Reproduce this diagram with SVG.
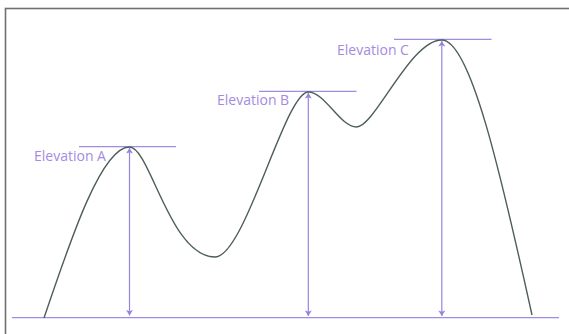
<svg xmlns="http://www.w3.org/2000/svg" width="569" height="334" viewBox="0 0 569 334">
<style>
.frame{fill:#fff;stroke:#707070;stroke-width:1.6}
.guide{stroke:#a08ce0;stroke-width:1.2;fill:none}
.arrow{stroke:#9883dc;stroke-width:1.2;fill:none;marker-start:url(#up);marker-end:url(#down)}
.curve{stroke:#4d5e5c;stroke-width:1.4;fill:none}
.lbl{font-family:"Open Sans","Noto Sans",sans-serif;font-size:14px;fill:#a48be0}
</style>
<defs>
<marker id="up" viewBox="0 0 10 10" refX="5" refY="0" markerWidth="7" markerHeight="7" markerUnits="userSpaceOnUse" orient="0">
<path d="M5,0 L10,8 L5,6 L0,8 Z" fill="#9883dc"/>
</marker>
<marker id="down" viewBox="0 0 10 10" refX="5" refY="10" markerWidth="7" markerHeight="7" markerUnits="userSpaceOnUse" orient="0">
<path d="M5,10 L10,2 L5,4 L0,2 Z" fill="#9883dc"/>
</marker>
</defs>
<rect width="569" height="334" fill="#fff"/>
<rect class="frame" x="5.5" y="8.5" width="570" height="340"/>
<g id="connectors">
<line class="guide" x1="12" y1="317.7" x2="559" y2="317.7"/>
<line class="guide" x1="79" y1="146.7" x2="176" y2="146.7"/>
<line class="guide" x1="259" y1="91.3" x2="356.5" y2="91.3"/>
<line class="guide" x1="394" y1="39.3" x2="491.5" y2="39.3"/>
<line class="arrow" x1="129.5" y1="148" x2="129.5" y2="315.5"/>
<line class="arrow" x1="308.3" y1="93" x2="308.3" y2="316"/>
<line class="arrow" x1="441.8" y1="41" x2="441.8" y2="316"/>
</g>
<g id="terrain">
<path class="curve" d="M44,318 C72,235 102,147 129.5,147 C150,147 170,257 215,257 C245,257 285,92 308.3,92 C325,92 340,127 356.5,127 C375,127 410,40 441.8,40 C470,40 500,170 532,315"/>
</g>
<g id="elevation-a"><text class="lbl" x="34" y="160.5">Elevation A</text></g>
<g id="elevation-b"><text class="lbl" x="217" y="105.3">Elevation B</text></g>
<g id="elevation-c"><text class="lbl" x="337" y="54.7">Elevation C</text></g>
</svg>
